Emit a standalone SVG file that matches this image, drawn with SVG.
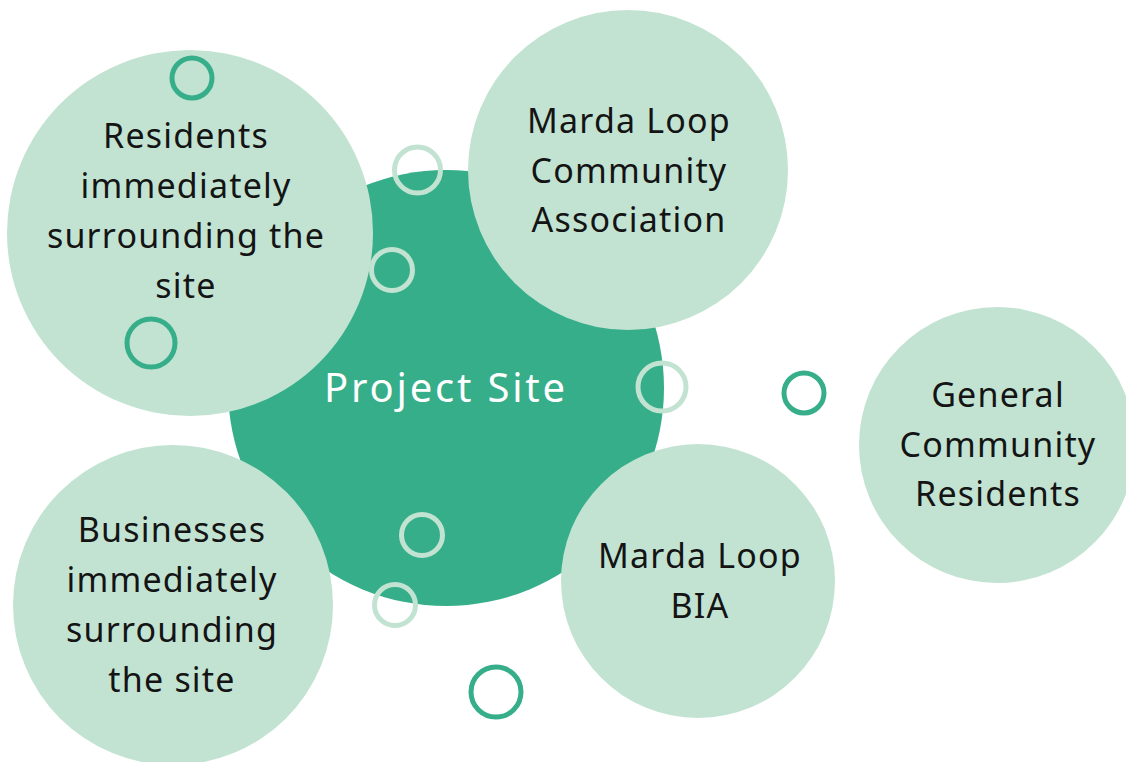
<svg xmlns="http://www.w3.org/2000/svg" width="1126" height="762" viewBox="0 0 1126 762">
<style>
.bg{fill:#ffffff}
.core{fill:#36ae8a}
.bub{fill:#c2e3d2}
.lbl{font-family:"Noto Sans","Open Sans","DejaVu Sans",sans-serif;font-size:34px;letter-spacing:1.2px;fill:#141414;text-anchor:middle}
.core-lbl{font-family:"Noto Sans","Open Sans","DejaVu Sans",sans-serif;font-size:40px;letter-spacing:2.8px;fill:#ffffff;text-anchor:middle}
.ring-d{fill:none;stroke:#36ae8a;stroke-width:5}
.ring-l{fill:none;stroke:#c2e3d2;stroke-width:5}
</style>
<rect class="bg" x="0" y="0" width="1126" height="762"/>
<g id="connectors"></g>
<g id="project-site">
<circle class="core" cx="446" cy="388" r="218"/>
<text class="core-lbl" x="446" y="402">Project Site</text>
</g>
<g id="residents">
<circle class="bub" cx="190" cy="233" r="183"/>
<text class="lbl" x="186" y="148">Residents</text>
<text class="lbl" x="186" y="198">immediately</text>
<text class="lbl" x="186" y="248">surrounding the</text>
<text class="lbl" x="186" y="298">site</text>
</g>
<g id="mlca">
<circle class="bub" cx="628" cy="170" r="160"/>
<text class="lbl" x="629" y="133">Marda Loop</text>
<text class="lbl" x="629" y="183">Community</text>
<text class="lbl" x="629" y="232">Association</text>
</g>
<g id="general">
<circle class="bub" cx="997" cy="445" r="138"/>
<text class="lbl" x="998" y="407">General</text>
<text class="lbl" x="998" y="457">Community</text>
<text class="lbl" x="998" y="506">Residents</text>
</g>
<g id="businesses">
<circle class="bub" cx="173" cy="605" r="160"/>
<text class="lbl" x="172" y="542">Businesses</text>
<text class="lbl" x="172" y="592">immediately</text>
<text class="lbl" x="172" y="642">surrounding</text>
<text class="lbl" x="172" y="692">the site</text>
</g>
<g id="bia">
<circle class="bub" cx="698" cy="581" r="137"/>
<text class="lbl" x="700" y="568">Marda Loop</text>
<text class="lbl" x="700" y="618">BIA</text>
</g>
<g id="rings">
<circle class="ring-d" cx="192" cy="78" r="20"/>
<circle class="ring-l" cx="417.5" cy="170" r="23"/>
<circle class="ring-l" cx="392" cy="270" r="20.5"/>
<circle class="ring-d" cx="151" cy="343" r="24"/>
<circle class="ring-l" cx="662" cy="387" r="24"/>
<circle class="ring-d" cx="804" cy="393" r="20"/>
<circle class="ring-l" cx="422" cy="535" r="20.5"/>
<circle class="ring-l" cx="395" cy="605" r="20.5"/>
<circle class="ring-d" cx="496" cy="692" r="25"/>
</g>
</svg>
